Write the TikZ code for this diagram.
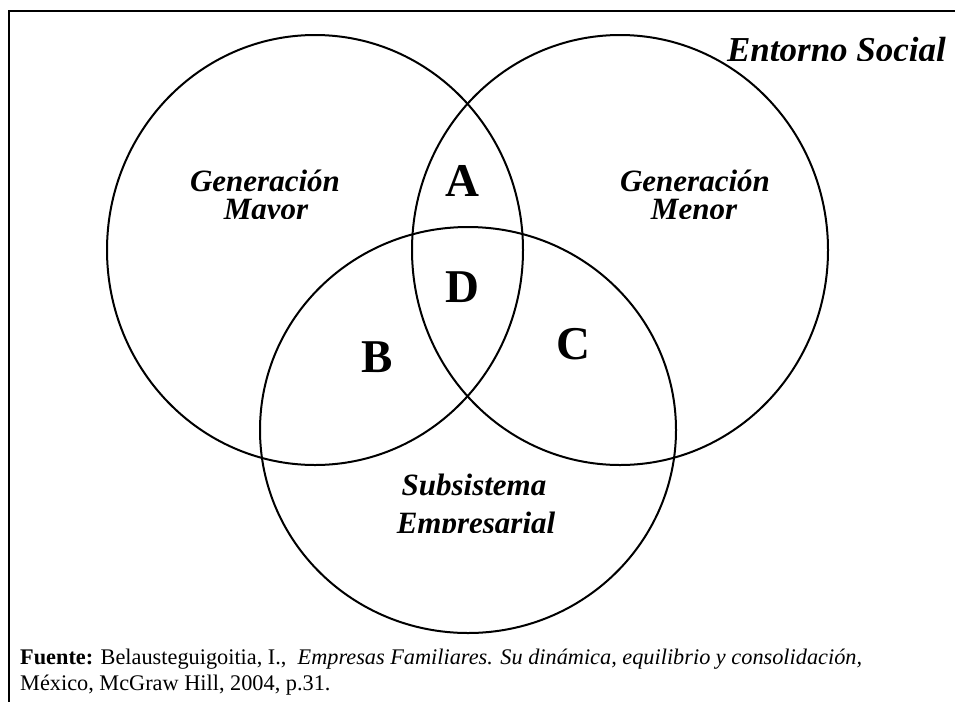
\documentclass[tikz,border=0pt]{standalone}
\usepackage{fontspec}
\setmainfont{Liberation Serif}
\begin{document}
\begin{tikzpicture}[x=1pt,y=-1pt,
  ring/.style={line width=2pt},
  frameline/.style={line width=2pt},
  region/.style={font=\fontsize{31}{31}\selectfont\bfseries\itshape, inner sep=0pt, anchor=base},
  title/.style={font=\fontsize{35}{35}\selectfont\bfseries\itshape, inner sep=0pt, anchor=base},
  zone/.style={font=\fontsize{47}{47}\selectfont\bfseries, inner sep=0pt, anchor=base},
  source/.style={font=\fontsize{22.3}{22.3}\selectfont, inner sep=0pt, anchor=base west}]
\useasboundingbox (0,0) rectangle (955,702);

% open frame: top rule and left rule
\coordinate (tl) at (8.5,11);
\coordinate (tr) at (955,11);
\coordinate (bl) at (8.5,702);
\draw[frameline] (tr) -- (tl) -- (bl);

% the three overlapping subsystems
\draw[ring] (315,250) ellipse [x radius=208, y radius=215];
\draw[ring] (620,250) ellipse [x radius=208, y radius=215];
\draw[ring] (468,430) ellipse [x radius=208, y radius=203];

% environment label, cut along its baseline
\begin{scope}
  \clip (0,0) rectangle (955,60);
  \node[title] (entorno) at (836.5,61) {Entorno Social};
\end{scope}

% subsystem labels
\node[region] (mayor1) at (265,191) {Generación};
\begin{scope}
  \clip (0,0) rectangle (955,218);
  \node[region] (mayor2) at (266,219) {Mayor};
\end{scope}
\node[region] (menor1) at (695,191) {Generación};
\begin{scope}
  \clip (0,0) rectangle (955,218);
  \node[region] (menor2) at (694,219) {Menor};
\end{scope}
\node[region] (emp1) at (474,495) {Subsistema};
\begin{scope}
  \clip (0,0) rectangle (955,532);
  \node[region] (emp2) at (476,533) {Empresarial};
\end{scope}

% overlap letters
\node[zone] (A) at (462.5,196) {A};
\node[zone] (D) at (462,302) {D};
\node[zone] (B) at (377.5,372) {B};
\node[zone] (C) at (573.5,359) {C};

% source note
\node[source] (src1) at (20,664) {\textbf{Fuente:} Belausteguigoitia, I.,\ \ \textit{Empresas Familiares. Su dinámica, equilibrio y consolidación,}};
\node[source] (src2) at (20,690) {México, McGraw Hill, 2004, p.31.};
\end{tikzpicture}
\end{document}
